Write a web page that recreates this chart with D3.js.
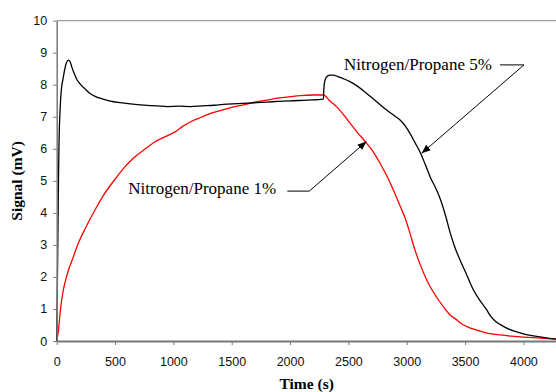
<!DOCTYPE html>
<html lang="en">
<head>
    <meta charset="UTF-8">
    <title>Signal vs Time</title>
    <script src="https://d3js.org/d3.v7.min.js"></script>
    <style>
        body { margin: 0; background: #fff; }
        .axis path, .axis line { stroke: #777; }
        .axis text { font-family: "Liberation Sans", Arial, sans-serif; font-size: 12.5px; fill: #111; }
        .title { font-family: "Liberation Serif", "Times New Roman", serif; font-weight: bold; font-size: 15.5px; }
        .note { font-family: "Liberation Serif", "Times New Roman", serif; font-size: 17px; }
    </style>
</head>
<body>
    <svg width="556" height="392"></svg>
    <script>
        // data (time in s, signal in mV)
        const timeHigh = [0, 5, 10, 15, 20, 30, 40, 55, 70, 85, 100, 115, 130, 150, 175, 200, 240, 285, 330, 371,
            450, 543, 630, 714, 800, 857, 950, 1050, 1143, 1250, 1350, 1428, 1550, 1714, 1850, 2000, 2150, 2286,
            2290, 2300, 2320, 2343, 2371, 2400, 2450, 2514, 2580, 2657, 2740, 2828, 2900, 2943, 2990, 3028, 3070,
            3114, 3160, 3200, 3257, 3286, 3330, 3371, 3410, 3457, 3510, 3571, 3630, 3686, 3714, 3760, 3800, 3857,
            3930, 4000, 4070, 4143, 4210, 4300];
        const signalHigh = [0, 1.5, 3.2, 5.0, 6.2, 7.3, 7.85, 8.2, 8.5, 8.7, 8.77, 8.72, 8.55, 8.35, 8.15, 8.03, 7.88, 7.73, 7.64, 7.58,
            7.5, 7.44, 7.4, 7.37, 7.35, 7.34, 7.32, 7.33, 7.32, 7.34, 7.36, 7.39, 7.41, 7.44, 7.47, 7.5, 7.52, 7.55,
            7.9, 8.15, 8.27, 8.3, 8.3, 8.27, 8.2, 8.1, 7.95, 7.73, 7.48, 7.21, 7.02, 6.9, 6.7, 6.48, 6.2,
            5.9, 5.5, 5.13, 4.71, 4.45, 3.95, 3.4, 2.95, 2.53, 2.1, 1.6, 1.25, 0.97, 0.8, 0.62, 0.52, 0.4,
            0.3, 0.22, 0.17, 0.13, 0.09, 0.05];

        const timeLow = [0, 14, 30, 43, 60, 80, 100, 140, 185, 250, 328, 410, 500, 580, 671, 760, 843, 930, 1014,
            1080, 1157, 1230, 1314, 1410, 1514, 1610, 1714, 1800, 1886, 1990, 2086, 2190, 2286, 2340, 2400, 2460,
            2514, 2580, 2657, 2710, 2771, 2830, 2886, 2943, 2990, 3028, 3070, 3114, 3160, 3200, 3260, 3314, 3370,
            3428, 3457, 3520, 3600, 3700, 3800, 3900, 4000, 4150, 4300];
        const signalLow = [0, 0.3, 0.9, 1.28, 1.65, 1.95, 2.2, 2.6, 3.05, 3.55, 4.09, 4.6, 5.05, 5.42, 5.75, 6.0, 6.22, 6.38, 6.53,
            6.7, 6.86, 6.97, 7.1, 7.2, 7.31, 7.38, 7.47, 7.52, 7.58, 7.62, 7.66, 7.68, 7.68, 7.5, 7.31, 7.06,
            6.8, 6.5, 6.17, 5.92, 5.55, 5.15, 4.71, 4.22, 3.8, 3.36, 2.85, 2.4, 2.0, 1.7, 1.35, 1.07, 0.82,
            0.66, 0.57, 0.44, 0.34, 0.24, 0.19, 0.15, 0.12, 0.09, 0.05];

        const xTicks = [0, 500, 1000, 1500, 2000, 2500, 3000, 3500, 4000];
        const yTicks = [0, 1, 2, 3, 4, 5, 6, 7, 8, 9, 10];

        // annotation: label anchor, elbow start/end, arrow tip (data units)
        const labels = ['Nitrogen/Propane 5%', 'Nitrogen/Propane 1%'];
        const labelAt = [[2463, 8.46], [614, 4.59]];
        const elbowFrom = [[3800, 8.62], [1977, 4.68]];
        const elbowTo = [[4005, 8.62], [2165, 4.68]];
        const arrowTip = [[3128, 5.86], [2655, 6.23]];

        const svg = d3.select('svg');
        const x = d3.scaleLinear().domain([0, 4300]).range([56.7, 558.4]);
        const y = d3.scaleLinear().domain([0, 10]).range([341, 20.7]);

        // top frame line
        svg.append('line')
            .attr('x1', x(0)).attr('x2', x(4300))
            .attr('y1', y(10)).attr('y2', y(10))
            .attr('stroke', '#888').attr('stroke-width', 1);

        const line = d3.line().curve(d3.curveMonotoneX).x(d => x(d[0])).y(d => y(d[1]));

        svg.append('path')
            .datum(d3.zip(timeLow, signalLow))
            .attr('d', line)
            .attr('fill', 'none')
            .attr('stroke', '#ff0000')
            .attr('stroke-width', 1.3);

        svg.append('path')
            .datum(d3.zip(timeHigh, signalHigh))
            .attr('d', line)
            .attr('fill', 'none')
            .attr('stroke', '#000')
            .attr('stroke-width', 1.3);

        // axes
        const gx = svg.append('g').attr('class', 'axis')
            .attr('transform', `translate(0,${y(0)})`)
            .call(d3.axisBottom(x).tickValues(xTicks).tickFormat(d3.format('d'))
                .tickSize(4).tickPadding(12).tickSizeOuter(0));
        gx.select('.domain').attr('stroke-width', 2);

        const gy = svg.append('g').attr('class', 'axis')
            .attr('transform', `translate(${x(0)},0)`)
            .call(d3.axisLeft(y).tickValues(yTicks).tickFormat(d3.format('d'))
                .tickSize(3.5).tickPadding(6).tickSizeOuter(0));
        gy.select('.domain').attr('stroke-width', 1.5);

        svg.append('text').attr('class', 'title')
            .attr('x', 306.7).attr('y', 389)
            .attr('text-anchor', 'middle')
            .text('Time (s)');

        svg.append('text').attr('class', 'title')
            .attr('transform', `translate(22,${(y(0) + y(10)) / 2}) rotate(-90)`)
            .attr('text-anchor', 'middle')
            .text('Signal (mV)');

        // annotations
        svg.append('defs').append('marker')
            .attr('id', 'head')
            .attr('viewBox', '0 0 10 10')
            .attr('refX', 10).attr('refY', 5)
            .attr('markerWidth', 9).attr('markerHeight', 9)
            .attr('markerUnits', 'userSpaceOnUse')
            .attr('orient', 'auto')
            .append('path').attr('d', 'M0,1 L10,5 L0,9 Z').attr('fill', '#000');

        labels.forEach((txt, i) => {
            svg.append('text').attr('class', 'note')
                .attr('x', x(labelAt[i][0])).attr('y', y(labelAt[i][1]))
                .text(txt);
            svg.append('polyline')
                .attr('points', [elbowFrom[i], elbowTo[i], arrowTip[i]].map(p => `${x(p[0])},${y(p[1])}`).join(' '))
                .attr('fill', 'none')
                .attr('stroke', '#000')
                .attr('stroke-width', 1)
                .attr('marker-end', 'url(#head)');
        });
    </script>
</body>
</html>
